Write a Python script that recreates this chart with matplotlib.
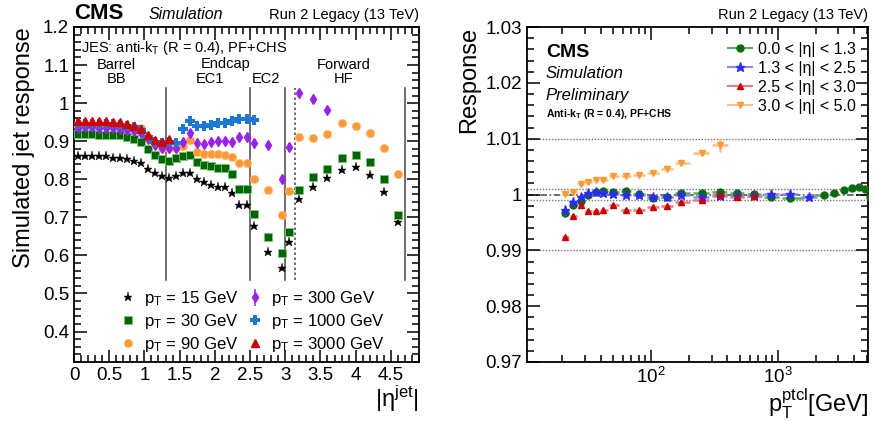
import numpy as np
import matplotlib
matplotlib.use("Agg")
import matplotlib.pyplot as plt
from matplotlib.ticker import MultipleLocator, LogLocator, NullFormatter, FixedLocator, FixedFormatter

plt.rcParams['font.family'] = ['Liberation Sans', 'DejaVu Sans']
plt.rcParams['mathtext.fontset'] = 'custom'
plt.rcParams['mathtext.rm'] = 'Liberation Sans'
plt.rcParams['mathtext.it'] = 'Liberation Sans:italic'
plt.rcParams['mathtext.bf'] = 'Liberation Sans:bold'

# =========================
# LEFT PANEL DATA (response vs |eta|)
# =========================
eta = [0.05, 0.15, 0.25, 0.35, 0.45, 0.55, 0.65, 0.75, 0.85, 0.95, 1.05, 1.15, 1.25,
       1.35, 1.45, 1.55, 1.65, 1.75, 1.85, 1.95, 2.05, 2.15, 2.25, 2.35, 2.45,
       2.55, 2.75, 2.95, 3.05, 3.2, 3.4, 3.6, 3.8, 4.0, 4.2, 4.4, 4.6]

resp_15 = [0.862, 0.862, 0.861, 0.861, 0.860, 0.856, 0.855, 0.852, 0.848, 0.844, 0.828, 0.816, 0.808,
           0.804, 0.808, 0.816, 0.816, 0.801, 0.793, 0.786, 0.780, 0.780, 0.763, 0.732, 0.732,
           0.678, 0.608, 0.568, 0.634, 0.747, 0.779, 0.804, 0.824, 0.832, 0.810, 0.767, 0.687]
resp_30 = [0.918, 0.918, 0.918, 0.917, 0.917, 0.916, 0.915, 0.910, 0.905, 0.899, 0.879, 0.863, 0.853,
           0.848, 0.855, 0.860, 0.864, 0.845, 0.837, 0.835, 0.830, 0.830, 0.814, 0.775, 0.775,
           0.710, 0.648, 0.606, 0.661, 0.773, 0.807, 0.828, 0.857, 0.864, 0.845, 0.801, 0.705]
resp_90 = [0.941, 0.941, 0.941, 0.940, 0.940, 0.939, 0.938, 0.937, 0.936, 0.934, 0.910, 0.892, 0.883,
           0.881, 0.881, 0.888, 0.904, 0.872, 0.866, 0.866, 0.866, 0.864, 0.859, 0.844, 0.844,
           0.800, 0.773, 0.705, 0.769, 0.910, 0.908, 0.919, 0.948, 0.941, 0.921, 0.882, 0.815]
resp_300 = [0.935, 0.936, 0.936, 0.935, 0.935, 0.934, 0.933, 0.930, 0.927, 0.922, 0.905, 0.890, 0.883,
            0.881, 0.883, 0.898, 0.921, 0.895, 0.892, 0.899, 0.901, 0.901, 0.899, 0.910, 0.910,
            0.894, 0.890, 0.800, 0.885, 1.026, 1.010, 0.982]
resp_1000 = [0.945, 0.945, 0.945, 0.945, 0.944, 0.944, 0.943, 0.940, 0.936, 0.929, 0.912, 0.898, 0.895,
             0.897, 0.895, 0.932, 0.952, 0.939, 0.939, 0.943, 0.948, 0.948, 0.952, 0.958, 0.958,
             0.957]
resp_3000 = [0.953, 0.954, 0.954, 0.953, 0.952, 0.951, 0.950, 0.946, 0.940, 0.932, 0.915, 0.903, 0.898,
             0.906]

boundaries = [1.3, 2.5, 3.0, 4.7]
hf_edge = 3.139

# =========================
# RIGHT PANEL DATA (closure vs pT)
# =========================
pt_b = [21, 24.4, 28, 32, 36.8, 42, 50.4, 63.5, 79.7, 104, 134, 172, 250, 347, 475, 650, 882, 1250,
        2290, 2780, 3290, 3810, 4330, 4830, 5350]
r_b = [0.9967, 0.9982, 0.9988, 1.0000, 1.0004, 1.0006, 1.0005, 1.0006, 1.0001, 0.9993, 0.9996, 1.0002,
       1.0003, 1.0004, 1.0002, 1.0001, 0.9995, 0.9994, 1.0000, 1.0003, 1.0008, 1.0012, 1.0013, 1.0009,
       0.9996]
pt_e = [21, 24.4, 28, 32, 36.8, 42, 50.4, 63.5, 79.7, 104, 134, 172, 250, 347, 475, 650, 882, 1250, 1766]
r_e = [0.9973, 0.9987, 0.9996, 1.0003, 1.0005, 1.0002, 1.0001, 1.0000, 1.0000, 0.9996, 0.9996, 0.9999,
       0.9996, 0.9998, 0.9998, 0.9998, 1.0001, 1.0001, 0.9995]
pt_t = [21, 24.4, 28, 32, 36.8, 42, 50.4, 63.5, 79.7, 104, 134, 172, 250, 347, 475, 650]
r_t = [0.9924, 0.9962, 0.9982, 0.9970, 0.9970, 0.9973, 0.9981, 0.9972, 0.9973, 0.9978, 0.9980, 0.9986,
       0.9991, 1.0000, 0.9996, 0.9997]
pt_f = [21, 24.4, 28, 32, 36.8, 42, 50.4, 63.5, 79.7, 104, 134, 172, 250, 350]
r_f = [1.0001, 1.0004, 1.0019, 1.0023, 1.0026, 1.0026, 1.0034, 1.0033, 1.0035, 1.0038, 1.0046, 1.0056,
       1.0074, 1.0088]
err_f = [0.0002, 0.0002, 0.0002, 0.0002, 0.0002, 0.0002, 0.0002, 0.0002, 0.0002, 0.0002, 0.0002, 0.0003,
         0.0004, 0.0012]

# =========================
# FIGURE
# =========================
W, H = 876, 421
fig = plt.figure(figsize=(W / 100, H / 100), dpi=100)
ax1 = fig.add_axes([74 / W, 1 - 362 / H, (419 - 74) / W, (362 - 27) / H])
ax2 = fig.add_axes([527 / W, 1 - 362 / H, (868 - 527) / W, (362 - 27) / H])


def root_ticks(ax):
    ax.tick_params(which='both', direction='in', top=True, right=True, labelsize=13.5, width=1.1)
    ax.tick_params(which='major', length=9)
    ax.tick_params(which='minor', length=5)
    for s in ax.spines.values():
        s.set_linewidth(1.3)


# ---- left panel ----
ax1.set_xlim(0, 4.9)
ax1.set_ylim(0.32, 1.2)
ax1.xaxis.set_minor_locator(MultipleLocator(0.1))
ax1.yaxis.set_minor_locator(MultipleLocator(0.02))
root_ticks(ax1)
ax1.set_xticks([0, 0.5, 1, 1.5, 2, 2.5, 3, 3.5, 4, 4.5])
ax1.set_xticklabels(['0', '0.5', '1', '1.5', '2', '2.5', '3', '3.5', '4', '4.5'])
ax1.set_yticks([0.4, 0.5, 0.6, 0.7, 0.8, 0.9, 1.0, 1.1, 1.2])
ax1.set_yticklabels(['0.4', '0.5', '0.6', '0.7', '0.8', '0.9', '1', '1.1', '1.2'])

for b in boundaries:
    ax1.plot([b, b], [0.535, 1.04], color='#555555', lw=1.2, zorder=1)
ax1.plot([hf_edge, hf_edge], [0.535, 1.04], color='#555555', lw=1.2, ls=(0, (1.5, 1.5)), zorder=1)

n3 = len(resp_3000)
n1 = len(resp_1000)
n300 = len(resp_300)
h15, = ax1.plot(eta, resp_15, ls='none', marker='*', ms=6.5, color='black', mew=0.3, zorder=3)
h30, = ax1.plot(eta, resp_30, ls='none', marker='s', ms=5.6, color='#006600', mec='#7cc47c', mew=0.6,
                zorder=3)
h90, = ax1.plot(eta, resp_90, ls='none', marker='o', ms=6, color='#ff9933', mec='#ffc080', mew=0.5,
                zorder=3)
h300 = ax1.errorbar(eta[:n300], resp_300, yerr=0.006, ls='none', marker='d', ms=5, color='#9a1ef5',
                    elinewidth=1.1, capsize=0, zorder=4)
h1000, = ax1.plot(eta[:n1], resp_1000, ls='none', marker='P', ms=6.5, color='#1a78d8', mew=0, zorder=5)
h3000, = ax1.plot(eta[:n3], resp_3000, ls='none', marker='^', ms=5.5, color='#d40000', zorder=6)

leg_h = [h15, h30, h90, h300, h1000, h3000]
leg_l = [r'p$_{\mathregular{T}}$ = 15 GeV', r'p$_{\mathregular{T}}$ = 30 GeV', r'p$_{\mathregular{T}}$ = 90 GeV',
         r'p$_{\mathregular{T}}$ = 300 GeV', r'p$_{\mathregular{T}}$ = 1000 GeV', r'p$_{\mathregular{T}}$ = 3000 GeV']
ax1.legend(leg_h, leg_l, ncol=2, loc='lower left', bbox_to_anchor=(0.1, -0.01), frameon=False,
           fontsize=12.1, handlelength=0.9, handletextpad=0.5, columnspacing=0.55,
           labelspacing=0.22, borderaxespad=0.3)

ax1.set_ylabel('Simulated jet response', fontsize=17, labelpad=6, loc='top')
ax1.set_xlabel(r'|η$^{\mathregular{jet}}$|', fontsize=17, loc='right', labelpad=0)

ax1.text(0.1, 1.144, r'JES: anti-k$_{\mathregular{T}}$ (R = 0.4), PF+CHS', fontsize=10.5, va='center', ha='left')
ax1.text(0.6, 1.1, 'Barrel', fontsize=10.5, ha='center', va='center')
ax1.text(0.6, 1.063, 'BB', fontsize=10.5, ha='center', va='center')
ax1.text(2.15, 1.104, 'Endcap', fontsize=10.5, ha='center', va='center')
ax1.text(1.93, 1.063, 'EC1', fontsize=10.5, ha='center', va='center')
ax1.text(2.73, 1.063, 'EC2', fontsize=10.5, ha='center', va='center')
ax1.text(3.83, 1.1, 'Forward', fontsize=10.5, ha='center', va='center')
ax1.text(3.83, 1.063, 'HF', fontsize=10.5, ha='center', va='center')

ax1.text(0.0, 1.01, 'CMS', transform=ax1.transAxes, fontsize=16, fontweight='bold', ha='left', va='bottom')
ax1.text(0.215, 1.015, 'Simulation', transform=ax1.transAxes, fontsize=11.5, style='italic', ha='left', va='bottom')
ax1.text(1.0, 1.015, 'Run 2 Legacy (13 TeV)', transform=ax1.transAxes, fontsize=10.5, ha='right', va='bottom')

# ---- right panel ----
ax2.set_xscale('log')
ax2.set_xlim(10.5, 5130)
ax2.set_ylim(0.97, 1.03)
root_ticks(ax2)
ax2.xaxis.set_major_locator(FixedLocator([100, 1000]))
ax2.xaxis.set_major_formatter(FixedFormatter([r'10$^{\mathregular{2}}$', r'10$^{\mathregular{3}}$']))
ax2.xaxis.set_minor_locator(LogLocator(base=10, subs=np.arange(2, 10), numticks=20))
ax2.xaxis.set_minor_formatter(NullFormatter())
ax2.yaxis.set_minor_locator(MultipleLocator(0.002))
ax2.set_yticks([0.97, 0.98, 0.99, 1.0, 1.01, 1.02, 1.03])
ax2.set_yticklabels(['0.97', '0.98', '0.99', '1', '1.01', '1.02', '1.03'])

for yv in [1.01, 0.99, 1.001, 0.999]:
    ax2.axhline(yv, color='#777777', lw=1.0, ls=(0, (1, 1.2)), zorder=1)
ax2.axhline(1.0, color='#555555', lw=1.2, ls=(0, (4, 1.5, 1, 1.5)), zorder=1)


def bin_halfwidths(pts, gap=0.85):
    # bars cover most of the distance to the neighbouring bins (log scale)
    lp = np.log10(pts)
    mids = (lp[1:] + lp[:-1]) / 2
    lo = np.concatenate([[lp[0] - (mids[0] - lp[0])], mids])
    hi = np.concatenate([mids, [lp[-1] + (lp[-1] - mids[-1])]])
    lo = lp - gap * (lp - lo)
    hi = lp + gap * (hi - lp)
    return [np.array(pts) - 10 ** lo, 10 ** hi - np.array(pts)]


series = [
    (pt_b, r_b, None, 'o', 5, '#0c6b0c', '#5fae5f', '0.0 < |η| < 1.3'),
    (pt_e, r_e, None, '*', 6.5, '#2a2aff', '#8a8aff', '1.3 < |η| < 2.5'),
    (pt_t, r_t, None, '^', 5, '#cc0000', '#ee7b7b', '2.5 < |η| < 3.0'),
    (pt_f, r_f, err_f, 'v', 5, '#ff9933', '#ffbf80', '3.0 < |η| < 5.0'),
]
for pts, rr, ee, mk, ms, col, lcol, lab in series:
    ax2.errorbar(pts, rr, xerr=bin_halfwidths(pts), yerr=ee, ls='none', color=lcol, elinewidth=1.8,
                 capsize=0, zorder=2)
    ax2.plot(pts, rr, ls='none', marker=mk, ms=ms, color=col, zorder=3)
    ax2.plot([], [], color=lcol, lw=1.5, marker=mk, ms=ms, mfc=col, mec=col, label=lab)

ax2.legend(loc='upper left', bbox_to_anchor=(0.56, 0.985), frameon=False, fontsize=11.5,
           handlelength=1.5, handletextpad=0.4, labelspacing=0.25, borderaxespad=0.2)

ax2.text(0.055, 0.925, 'CMS', transform=ax2.transAxes, fontsize=14, fontweight='bold', ha='left', va='center')
ax2.text(0.055, 0.86, 'Simulation', transform=ax2.transAxes, fontsize=12, style='italic', ha='left', va='center')
ax2.text(0.055, 0.797, 'Preliminary', transform=ax2.transAxes, fontsize=12, style='italic', ha='left', va='center')
ax2.text(0.055, 0.74, r'Anti-k$_{\mathbf{T}}$ (R = 0.4), PF+CHS', transform=ax2.transAxes, fontsize=7.5,
         fontweight='bold', ha='left', va='center')
ax2.text(1.0, 1.015, 'Run 2 Legacy (13 TeV)', transform=ax2.transAxes, fontsize=10.5, ha='right', va='bottom')

ax2.set_ylabel('Response', fontsize=17, labelpad=4, loc='top')
ax2.set_xlabel(r'p$_{\mathregular{T}}^{\mathregular{ptcl}}$[GeV]', fontsize=17, loc='right', labelpad=0)

fig.savefig('out.png', dpi=100)
